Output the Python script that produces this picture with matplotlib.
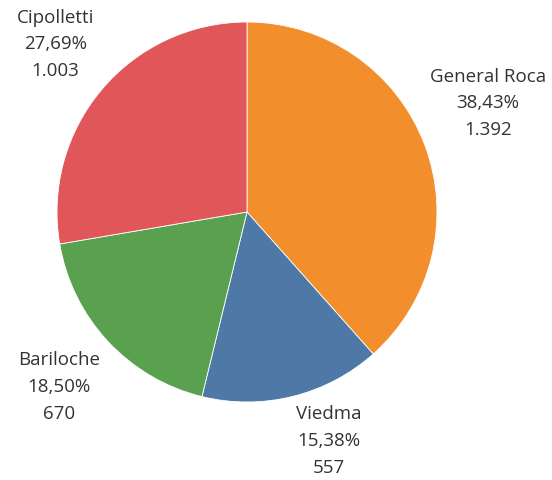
import numpy as np
import matplotlib.pyplot as plt

cities = ['General Roca', 'Viedma', 'Bariloche', 'Cipolletti']
counts = [1392, 557, 670, 1003]
colors = ['#F28E2B', '#4E79A7', '#59A14F', '#E15759']

fig = plt.figure(figsize=(5.52, 4.8), dpi=100)
ax = fig.add_axes([0, 0, 1, 1])

cx, cy, r = 247, 480 - 212, 190
wedges, _ = ax.pie(counts, colors=colors, startangle=90, counterclock=False,
                   center=(cx, cy), radius=r, frame=True,
                   wedgeprops=dict(edgecolor='white', linewidth=0.6))

# label placement: distance factor and angle nudge (deg) per slice
dist = [1.39, 1.28, 1.35, 1.34]
nudge = [3.5, 5.6, 0.0, -1.0]

total = sum(counts)
for w, name, n, d, a in zip(wedges, cities, counts, dist, nudge):
    ang = np.deg2rad((w.theta1 + w.theta2) / 2 + a)
    x = cx + d * r * np.cos(ang)
    y = cy + d * r * np.sin(ang)
    pct = f'{100 * n / total:.2f}'.replace('.', ',') + '%'
    num = f'{n:,}'.replace(',', '.')
    ax.text(x, y, f'{name}\n{pct}\n{num}', ha='center', va='center',
            family='Open Sans', fontsize=13.5, color='#333333', linespacing=1.62)

ax.set_xlim(0, 552)
ax.set_ylim(0, 480)
ax.set_aspect('equal')
ax.axis('off')

fig.savefig('out.png', dpi=100)
